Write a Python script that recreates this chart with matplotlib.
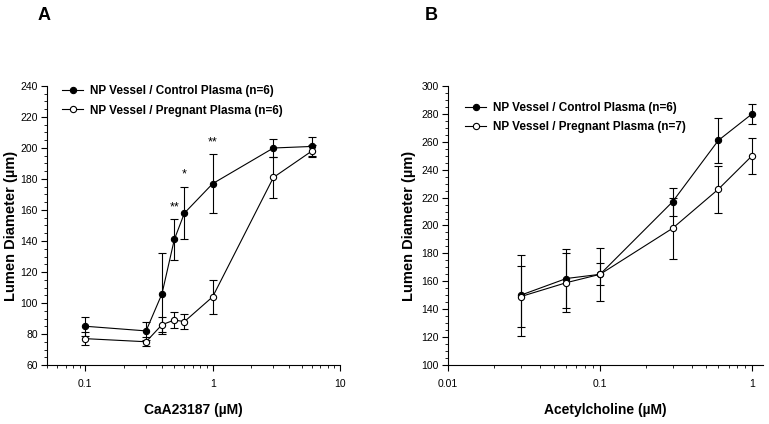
import numpy as np
import matplotlib.pyplot as plt
from matplotlib.ticker import MultipleLocator, FixedLocator, LogLocator, NullFormatter

plt.rcParams['font.family'] = ['Liberation Sans', 'DejaVu Sans']

# Panel A: CaA23187
ca_x = [0.1, 0.3, 0.4, 0.5, 0.6, 1, 3, 6]
ca_ctrl = [85, 82, 106, 141, 158, 177, 200, 201]
ca_ctrl_err = [6, 6, 26, 13, 17, 19, 6, 6]
ca_preg = [77, 75, 86, 89, 88, 104, 181, 198]
ca_preg_err = [4, 3, 5, 5, 5, 11, 13, 4]
ca_stars = [(0.5, '**'), (0.6, '*'), (1, '**')]

# Panel B: Acetylcholine
ach_x = [0.03, 0.06, 0.1, 0.3, 0.6, 1]
ach_ctrl = [150, 162, 165, 217, 261, 280]
ach_ctrl_err = [29, 21, 19, 10, 16, 7]
ach_preg = [149, 159, 165, 198, 226, 250]
ach_preg_err = [22, 21, 8, 22, 17, 13]

W, H = 769, 424
fig = plt.figure(figsize=(W / 100, H / 100), dpi=100)


def setup(ax, xlim, ylim, ymaj, xticks, xlabels, xlabel, ylab_x):
    ax.set_xscale('log')
    ax.set_xlim(*xlim)
    ax.set_ylim(*ylim)
    for s in ['top', 'right']:
        ax.spines[s].set_visible(False)
    for s in ['left', 'bottom']:
        ax.spines[s].set_linewidth(0.8)
    ax.yaxis.set_major_locator(MultipleLocator(ymaj))
    ax.yaxis.set_minor_locator(MultipleLocator(5))
    ax.xaxis.set_major_locator(FixedLocator(xticks))
    ax.set_xticklabels(xlabels)
    ax.xaxis.set_minor_locator(LogLocator(base=10, subs=np.arange(2, 10)))
    ax.xaxis.set_minor_formatter(NullFormatter())
    ax.tick_params(which='major', direction='out', length=4, width=0.8,
                   labelsize=7.5)
    ax.tick_params(axis='x', which='major', pad=6)
    ax.tick_params(axis='y', which='major', pad=2.5)
    ax.tick_params(which='minor', direction='out', length=2.5, width=0.6)
    ax.set_xlabel(xlabel, fontsize=10, fontweight='bold', labelpad=10)
    ax.set_ylabel('Lumen Diameter (µm)', fontsize=10.5, fontweight='bold')
    ax.yaxis.set_label_coords(ylab_x, 0.5)


def series(ax, x, y, err, filled, label):
    ax.errorbar(x, y, yerr=err, color='black', lw=0.8, elinewidth=0.8,
                capsize=3, capthick=0.8, marker='o', markersize=4.5,
                markerfacecolor='black' if filled else 'white',
                markeredgecolor='black', markeredgewidth=0.8, label=label)


axA = fig.add_axes([47 / W, 1 - 365 / H, 293 / W, 279 / H])
series(axA, ca_x, ca_ctrl, ca_ctrl_err, True, 'NP Vessel / Control Plasma (n=6)')
series(axA, ca_x, ca_preg, ca_preg_err, False, 'NP Vessel / Pregnant Plasma (n=6)')
for xs, s in ca_stars:
    i = ca_x.index(xs)
    axA.text(xs, ca_ctrl[i] + ca_ctrl_err[i] + 4, s, ha='center', va='bottom',
             fontsize=9)
setup(axA, (0.05, 10), (60, 240), 20, [0.1, 1, 10], ['0.1', '1', '10'],
      'CaA23187 (µM)', -0.1)
h, l = axA.get_legend_handles_labels()
axA.legend([x[0] for x in h], l, loc='upper left', bbox_to_anchor=(0.015, 1.04),
           frameon=False, prop={'weight': 'bold', 'size': 8.5},
           handlelength=1.8, handletextpad=0.6, labelspacing=0.6)

axB = fig.add_axes([448 / W, 1 - 365 / H, 315 / W, 279 / H])
series(axB, ach_x, ach_ctrl, ach_ctrl_err, True, 'NP Vessel / Control Plasma (n=6)')
series(axB, ach_x, ach_preg, ach_preg_err, False, 'NP Vessel / Pregnant Plasma (n=7)')
setup(axB, (0.01, 1.18), (100, 300), 20, [0.01, 0.1, 1], ['0.01', '0.1', '1'],
      'Acetylcholine (µM)', -0.1)
h, l = axB.get_legend_handles_labels()
axB.legend([x[0] for x in h], l, loc='upper left', bbox_to_anchor=(0.02, 0.98),
           frameon=False, prop={'weight': 'bold', 'size': 8.5},
           handlelength=1.8, handletextpad=0.6, labelspacing=0.6)

fig.text(38 / W, 1 - 15 / H, 'A', fontsize=13, fontweight='bold', va='center')
fig.text(425 / W, 1 - 15 / H, 'B', fontsize=13, fontweight='bold', va='center')

fig.savefig('out.png', dpi=100)
